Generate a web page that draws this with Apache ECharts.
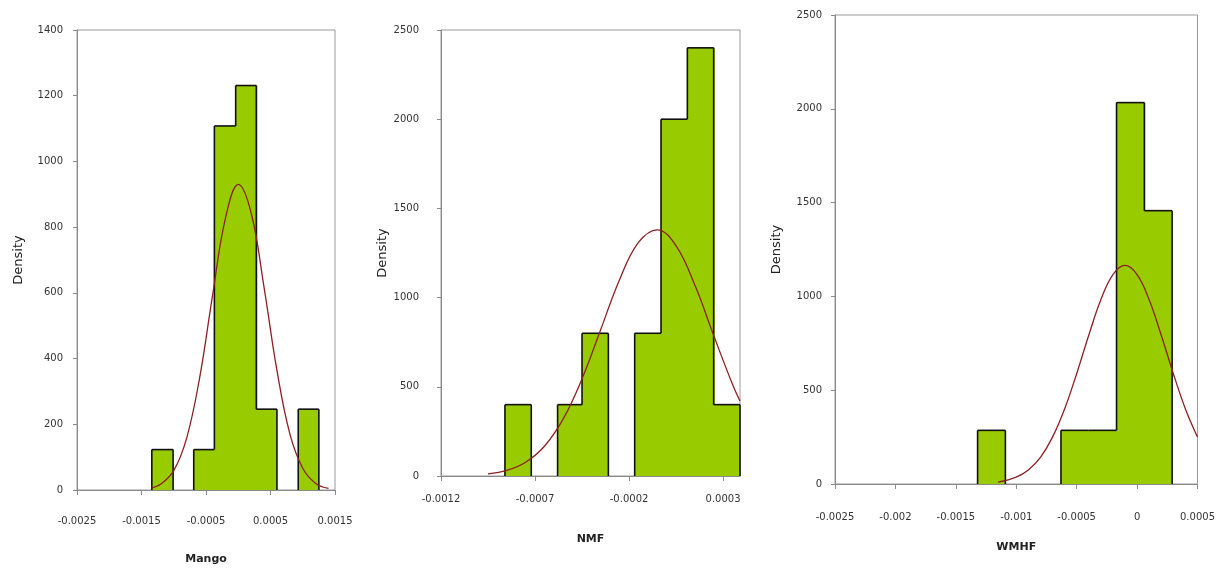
<!DOCTYPE html>
<html><head><meta charset="utf-8">
<script src="https://cdn.jsdelivr.net/npm/echarts@6/dist/echarts.min.js"></script>
<style>html,body{margin:0;padding:0;background:#fff}#c{width:1218px;height:571px}</style>
</head><body><div id="c"></div>
<script>
// ---- Mango ----
const mangoEdges   = [-0.00134, -0.00101, -0.00069, -0.00037, -0.00004, 0.00028, 0.00060, 0.00093, 0.00125];
const mangoDensity = [123, 0, 123, 1108, 1231, 246, 0, 246];
const mangoCurveX  = [-0.00135, -0.0012, -0.001, -0.0008, -0.0006, -0.0004, -0.0002, 0, 0.0002, 0.0004, 0.0006, 0.0008, 0.001, 0.0012, 0.0014];
const mangoCurveY  = [6, 18, 59, 158, 340, 590, 826, 930, 843, 617, 364, 171, 66, 20, 5];
const mangoTicks   = [-0.0025, -0.0015, -0.0005, 0.0005, 0.0015];
// ---- NMF ----
const nmfEdges   = [-0.00086, -0.00072, -0.00058, -0.00045, -0.00031, -0.00017, -0.00003, 0.00011, 0.00025, 0.00039];
const nmfDensity = [400, 0, 400, 800, 0, 800, 2000, 2400, 400];
const nmfCurveX  = [-0.00095, -0.00085, -0.00075, -0.00065, -0.00055, -0.00045, -0.00035, -0.00025, -0.00015, -0.00005, 0.00005, 0.00015, 0.00025, 0.00035, 0.00039];
const nmfCurveY  = [12, 31, 77, 167, 320, 545, 823, 1102, 1309, 1380, 1290, 1070, 788, 514, 420];
const nmfTicks   = [-0.0012, -0.0007, -0.0002, 0.0003];
// ---- WMHF ----
const wmhfEdges   = [-0.00132, -0.00109, -0.00086, -0.00063, -0.00040, -0.00017, 0.00006, 0.00029];
const wmhfDensity = [286, 0, 0, 286, 286, 2033, 1457];
const wmhfCurveX  = [-0.00115, -0.001, -0.0009, -0.0008, -0.0007, -0.0006, -0.0005, -0.0004, -0.0003, -0.0002, -0.0001, 0, 0.0001, 0.0002, 0.0003, 0.0004, 0.0005];
const wmhfCurveY  = [10, 37, 75, 142, 250, 400, 588, 793, 982, 1116, 1165, 1116, 982, 793, 588, 400, 250];
const wmhfTicks   = [-0.0025, -0.002, -0.0015, -0.001, -0.0005, 0, 0.0005];

const FONT = 'DejaVu Sans';
const AXC = '#8a8a8a';

function binData(edges, dens) {
  return dens.map((h, i) => [edges[i], edges[i + 1], h, i > 0 ? dens[i - 1] : 0, i === dens.length - 1 ? 1 : 0, i < dens.length - 1 ? dens[i + 1] : 0]);
}
function renderBin(params, api) {
  const x0 = api.value(0), x1 = api.value(1), h = api.value(2), hp = api.value(3), last = api.value(4), hn = api.value(5);
  const children = [];
  const pBL = api.coord([x0, 0]), pTR = api.coord([x1, h]);
  if (h > 0) {
    const extra = hn > 0 ? 1 : 0;
    children.push({type: 'rect', shape: {x: pBL[0], y: pTR[1], width: pTR[0] - pBL[0] + extra, height: pBL[1] - pTR[1]},
      style: {fill: '#99cc00'}, z2: 1});
    const pTL = api.coord([x0, h]);
    children.push({type: 'line', shape: {x1: pTL[0], y1: pTL[1], x2: pTR[0], y2: pTR[1]}, style: {stroke: '#111', lineWidth: 1.6}, z2: 5});
  }
  const lo = Math.min(h, hp), hi = Math.max(h, hp);
  if (hi > 0) {
    const a = api.coord([x0, lo]), b = api.coord([x0, hi]);
    children.push({type: 'line', shape: {x1: a[0], y1: a[1], x2: b[0], y2: b[1]}, style: {stroke: '#111', lineWidth: 1.6}, z2: 5});
  }
  if (last && h > 0) {
    const a = api.coord([x1, 0]), b = api.coord([x1, h]);
    children.push({type: 'line', shape: {x1: a[0], y1: a[1], x2: b[0], y2: b[1]}, style: {stroke: '#111', lineWidth: 1.6}, z2: 5});
  }
  return {type: 'group', children};
}
function pairs(xs, ys) { return xs.map((x, i) => [x, ys[i]]); }

const grids = [
  {left: 77, top: 30, width: 258, height: 460},
  {left: 441, top: 30, width: 299, height: 446},
  {left: 835, top: 15, width: 363, height: 469}
].map(g => Object.assign(g, {show: true, borderColor: '#9a9a9a', borderWidth: 1, backgroundColor: '#fff'}));

function xAxis(i, min, max, ticks, name, labelMargin, nameGap) {
  return {
    type: 'value', gridIndex: i, min, max, scale: false,
    axisLine: {show: true, onZero: false, lineStyle: {color: AXC, width: 1}},
    axisTick: {show: true, customValues: ticks, length: 5, lineStyle: {color: AXC}},
    axisLabel: {customValues: ticks, margin: labelMargin, fontSize: 10, color: '#333', fontFamily: FONT,
      formatter: v => String(v)},
    splitLine: {show: false},
    name, nameLocation: 'middle', nameGap,
    nameTextStyle: {fontFamily: FONT, fontSize: 11, fontWeight: 'bold', color: '#222'}
  };
}
function yAxis(i, max, interval, labelMargin) {
  return {
    type: 'value', gridIndex: i, min: 0, max, interval,
    axisLine: {show: true, onZero: false, lineStyle: {color: AXC, width: 1}},
    axisTick: {show: true, length: 4, lineStyle: {color: AXC}},
    axisLabel: {margin: labelMargin, fontSize: 10, color: '#333', fontFamily: FONT, formatter: v => String(v)},
    splitLine: {show: false},
    name: 'Density', nameLocation: 'middle', nameGap: 52, nameRotate: 90,
    nameTextStyle: {fontFamily: FONT, fontSize: 13, color: '#222'}
  };
}

const curveStyle = {color: '#8e1f22', width: 1.3};
function histSeries(i, edges, dens) {
  return {type: 'custom', xAxisIndex: i, yAxisIndex: i, renderItem: renderBin, data: binData(edges, dens), clip: false, z: 2,
    encode: {x: [0, 1], y: 2}};
}
function curveSeries(i, xs, ys) {
  return {type: 'line', xAxisIndex: i, yAxisIndex: i, data: pairs(xs, ys), smooth: 0.4, showSymbol: false,
    lineStyle: curveStyle, z: 3, animation: false};
}

const chart = echarts.init(document.getElementById('c'), null, {renderer: 'canvas'});
chart.setOption({
  animation: false,
  backgroundColor: '#ffffff',
  grid: grids,
  xAxis: [
    xAxis(0, -0.0025, 0.0015, mangoTicks, 'Mango', 26, 64),
    xAxis(1, -0.0012, 0.00039, nmfTicks, 'NMF', 18, 58),
    xAxis(2, -0.0025, 0.0005, wmhfTicks, 'WMHF', 28, 58)
  ],
  yAxis: [
    yAxis(0, 1400, 200, 14),
    yAxis(1, 2500, 500, 22),
    yAxis(2, 2500, 500, 13)
  ],
  series: [
    histSeries(0, mangoEdges, mangoDensity),
    curveSeries(0, mangoCurveX, mangoCurveY),
    histSeries(1, nmfEdges, nmfDensity),
    curveSeries(1, nmfCurveX, nmfCurveY),
    histSeries(2, wmhfEdges, wmhfDensity),
    curveSeries(2, wmhfCurveX, wmhfCurveY)
  ]
});
</script>
</body></html>
